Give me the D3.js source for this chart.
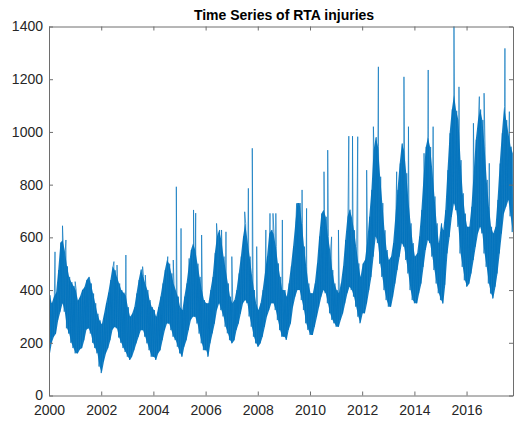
<!DOCTYPE html>
<html>
<head>
<meta charset="utf-8">
<script src="https://cdn.jsdelivr.net/npm/d3@7"></script>
<style>
  html, body { margin: 0; padding: 0; background: #fff; }
  svg { display: block; }
  text { font-family: Arial, "Liberation Sans", Helvetica, sans-serif; }
</style>
</head>
<body>
<svg id="chart" width="514" height="426"></svg>
<script>
// ---- data ----
const title = "Time Series of RTA injuries";
const startYear = 2000;
const endDate = "2017-10-12";
const xTickYears = [2000, 2002, 2004, 2006, 2008, 2010, 2012, 2014, 2016];
const yTicks = [0, 200, 400, 600, 800, 1000, 1200, 1400];

// monthly lower edge of the daily band, Jan 2000 .. Oct 2017
const monthlyLow = [
  150, 200, 223, 235, 286, 318, 350, 318, 255, 235, 200, 180,
  160, 160, 175, 180, 210, 250, 255, 235, 200, 180, 160, 110,
  85, 130, 160, 180, 210, 250, 260, 255, 220, 200, 180, 165,
  147, 135, 147, 172, 198, 223, 248, 248, 223, 198, 172, 147,
  147, 135, 160, 172, 210, 248, 273, 273, 248, 223, 210, 185,
  160, 147, 185, 210, 248, 286, 299, 299, 273, 235, 198, 172,
  172, 147, 198, 236, 273, 324, 350, 324, 300, 261, 236, 210,
  198, 210, 248, 273, 311, 350, 362, 350, 300, 261, 223, 198,
  185, 198, 223, 261, 300, 324, 350, 350, 324, 286, 248, 223,
  223, 211, 249, 274, 337, 375, 400, 400, 362, 324, 274, 249,
  230, 230, 261, 299, 337, 375, 400, 388, 350, 312, 287, 274,
  261, 261, 287, 312, 350, 388, 413, 400, 375, 337, 299, 274,
  312, 312, 350, 400, 450, 527, 603, 578, 500, 450, 400, 362,
  337, 337, 375, 425, 476, 527, 578, 565, 514, 463, 400, 362,
  350, 350, 388, 425, 488, 552, 590, 578, 527, 476, 425, 388,
  362, 349, 420, 539, 602, 678, 729, 703, 640, 539, 488, 437,
  413, 425, 463, 514, 565, 615, 640, 615, 539, 488, 425, 387,
  368, 413, 463, 539, 615, 691, 716, 742, 680, 620
];
// monthly upper edge of the daily band
const monthlyHigh = [
  380, 350, 375, 390, 476, 580, 590, 550, 490, 450, 430, 415,
  400, 360, 375, 400, 410, 438, 450, 425, 387, 350, 310, 285,
  270, 310, 350, 390, 438, 490, 475, 450, 425, 400, 390, 380,
  335, 299, 310, 335, 387, 438, 478, 452, 425, 400, 362, 336,
  324, 299, 335, 375, 425, 476, 514, 500, 463, 425, 400, 375,
  336, 324, 375, 425, 490, 552, 578, 552, 500, 450, 400, 362,
  350, 350, 400, 450, 540, 603, 628, 590, 527, 476, 425, 375,
  350, 362, 400, 463, 527, 603, 653, 590, 527, 463, 400, 350,
  324, 350, 400, 463, 527, 615, 628, 615, 565, 501, 450, 400,
  400, 375, 425, 490, 565, 653, 730, 730, 653, 565, 490, 425,
  388, 388, 425, 501, 603, 690, 705, 678, 603, 552, 476, 425,
  400, 388, 425, 490, 590, 678, 705, 678, 627, 565, 501, 450,
  500, 514, 578, 678, 780, 931, 980, 945, 830, 730, 627, 552,
  514, 527, 578, 678, 780, 880, 956, 931, 843, 742, 653, 578,
  527, 540, 603, 704, 830, 943, 980, 943, 855, 755, 653, 578,
  653, 627, 703, 855, 995, 1085, 1140, 1080, 1045, 893, 767, 690,
  640, 640, 716, 843, 970, 1045, 1085, 1045, 944, 818, 716, 640,
  615, 640, 742, 880, 995, 1096, 1045, 995, 944, 919
];
// isolated single-day peaks above the band
const spikeDates = [
  "2000-03-25", "2000-07-08", "2000-08-25", "2001-01-01", "2001-07-26", "2002-06-28",
  "2002-08-10", "2002-12-12", "2003-08-03", "2003-09-10", "2004-07-20", "2004-10-05",
  "2004-11-17", "2005-01-22", "2005-05-15", "2005-07-16", "2005-08-15", "2005-11-06",
  "2006-06-03", "2006-08-12", "2006-10-13", "2007-01-03", "2007-07-02", "2007-08-22",
  "2007-10-16", "2007-12-17", "2008-04-23", "2008-06-20", "2008-08-01", "2008-09-10",
  "2008-12-10", "2009-06-28", "2009-09-12", "2009-11-14", "2010-07-16", "2010-09-06",
  "2010-10-30", "2011-02-03", "2011-06-28", "2011-08-19", "2011-10-31", "2012-03-04",
  "2012-06-06", "2012-08-15", "2013-04-28", "2013-06-21", "2013-08-08", "2013-10-10",
  "2014-05-16", "2014-07-13", "2014-09-20", "2015-05-13", "2015-07-09", "2015-09-17",
  "2016-04-06", "2016-06-28", "2016-09-02", "2016-11-14", "2017-06-21", "2017-08-22"
];
const spikeValues = [
  545, 644, 590, 432, 438, 508,
  495, 533, 489, 457, 527, 514,
  792, 634, 520, 704, 692, 609,
  653, 628, 621, 527, 697, 786,
  938, 565, 628, 691, 691, 691,
  666, 729, 780, 710, 849, 931,
  602, 628, 984, 984, 982, 855,
  1020, 1247, 849, 880, 1209, 1020,
  919, 1235, 1020, 906, 1400, 1171,
  1033, 1134, 1147, 881, 1317, 1077
];

// ---- layout ----
const svg = d3.select("#chart");
const plotLeft = 49, plotRight = 513, plotTop = 26.5, plotBottom = 395.5;
const parse = d3.utcParse("%Y-%m-%d");
const lineColor = "#0072BD";

const x = d3.scaleUtc()
  .domain([new Date(Date.UTC(startYear, 0, 1)), parse(endDate)])
  .range([plotLeft, plotRight]);
const y = d3.scaleLinear().domain([0, 1400]).range([plotBottom, plotTop]);

// monthly band records
const months = monthlyLow.map((v, i) => {
  const yr = startYear + Math.floor(i / 12), mo = i % 12;
  return { yr, mo, lo: v, hi: monthlyHigh[i] };
});

// series points: low, high within each month, plus single-day peaks
const pts = [];
months.forEach(m => {
  pts.push({ d: new Date(Date.UTC(m.yr, m.mo, 1)), v: m.lo });
  pts.push({ d: new Date(Date.UTC(m.yr, m.mo, 16)), v: m.hi });
});
spikeDates.forEach((s, i) => pts.push({ d: parse(s), v: spikeValues[i] }));
pts.sort((a, b) => a.d - b.d);

svg.append("defs").append("clipPath").attr("id", "clip")
  .append("rect").attr("x", plotLeft).attr("y", plotTop - 1)
  .attr("width", plotRight - plotLeft).attr("height", plotBottom - plotTop + 1);

const plot = svg.append("g").attr("clip-path", "url(#clip)");

// dense band of daily values
const area = d3.area()
  .x(m => x(new Date(Date.UTC(m.yr, m.mo, 9))))
  .y0(m => y(m.lo))
  .y1(m => y(m.hi));
plot.append("path")
  .datum(months)
  .attr("fill", lineColor)
  .attr("fill-opacity", 0.92)
  .attr("stroke", "none")
  .attr("d", area);

const line = d3.line().x(p => x(p.d)).y(p => y(p.v));
plot.append("path")
  .datum(pts)
  .attr("fill", "none")
  .attr("stroke", lineColor)
  .attr("stroke-width", 0.8)
  .attr("stroke-opacity", 0.85)
  .attr("d", line);

// ---- axes ----
const axisColor = "#6e6e6e";
const textColor = "#262626";
const xTickDates = xTickYears.map(yv => new Date(Date.UTC(yv, 0, 1)));

const gx = svg.append("g").attr("transform", `translate(0,${plotBottom})`)
  .call(d3.axisBottom(x).tickValues(xTickDates).tickFormat(d3.utcFormat("%Y"))
        .tickSizeInner(-4).tickSizeOuter(0).tickPadding(10));
const gxt = svg.append("g").attr("transform", `translate(0,${plotTop})`)
  .call(d3.axisTop(x).tickValues(xTickDates).tickFormat("")
        .tickSizeInner(-4).tickSizeOuter(0));
const gy = svg.append("g").attr("transform", `translate(${plotLeft},0)`)
  .call(d3.axisLeft(y).tickValues(yTicks).tickFormat(d3.format("d"))
        .tickSizeInner(-4).tickSizeOuter(0).tickPadding(6));
const gyr = svg.append("g").attr("transform", `translate(${plotRight},0)`)
  .call(d3.axisRight(y).tickValues(yTicks).tickFormat("")
        .tickSizeInner(-4).tickSizeOuter(0));

[gx, gxt, gy, gyr].forEach(g => {
  g.select(".domain").attr("stroke", axisColor).attr("stroke-width", 1);
  g.selectAll(".tick line").attr("stroke", axisColor);
  g.selectAll("text").attr("fill", textColor).style("font-size", "14px")
    .style("font-family", "Arial, 'Liberation Sans', Helvetica, sans-serif");
});

svg.append("text")
  .attr("x", 284).attr("y", 20)
  .attr("text-anchor", "middle")
  .style("font-size", "14px").style("font-weight", "bold")
  .attr("fill", "#000")
  .text(title);
</script>
</body>
</html>
